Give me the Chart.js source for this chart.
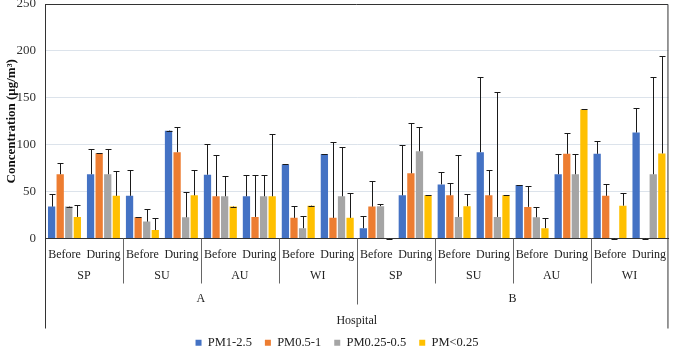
<!DOCTYPE html>
<html>
<head>
    <title>Concentration by hospital</title>
    <script src="https://cdn.jsdelivr.net/npm/chart.js"></script>
    <style>
        html, body { margin: 0; padding: 0; background: #fff; }
        #wrap { width: 675px; height: 349px; position: relative; }
    </style>
</head>
<body>
    <div id="wrap"><canvas id="myChart"></canvas></div>
    <script>
        // categories
        const periods = ['Before', 'During', 'Before', 'During', 'Before', 'During', 'Before', 'During',
                         'Before', 'During', 'Before', 'During', 'Before', 'During', 'Before', 'During'];
        const seasons = ['SP', 'SU', 'AU', 'WI', 'SP', 'SU', 'AU', 'WI'];
        const hospitals = ['A', 'B'];
        const yTicks = [0, 50, 100, 150, 200, 250];

        // means
        const pm1_25 = [34, 68.5, 45.5, 115, 68, 45, 79, 90, 11, 46, 57.7, 92, 57, 68.5, 90.3, 113];
        const pm05_1 = [68.5, 91, 22.6, 92, 45, 23, 22, 22, 34, 69.5, 46, 46, 33.7, 90.3, 45.5, 0];
        const pm025_05 = [34, 68.5, 18, 22.6, 45, 45, 11, 45, 34.5, 93, 23, 23, 22.6, 68.5, 0, 68.5];
        const pm025 = [23, 45.5, 9, 46, 34, 45, 35, 22, 0, 46, 34.4, 46, 11, 137.6, 35, 90.7];

        // top of error bars (mean + sd)
        const pm1_25Top = [47, 95, 73, 115, 101, 68, 79, 90, 24, 100, 70.6, 172, 57, 90.3, 103.6, 139];
        const pm05_1Top = [81, 91, 22.6, 119, 89, 68, 35, 103, 61, 123, 59, 72.8, 56, 113, 58, 0];
        const pm025_05Top = [34, 95, 31.5, 50, 67, 68, 24, 98, 36.5, 119, 89, 156.6, 34, 90.3, 0, 172];
        const pm025Top = [36, 72, 22, 73, 34, 111.5, 35, 49, 0, 46, 47.7, 46, 22, 137.6, 48, 194.6];

        const serif = "'Liberation Serif', 'Times New Roman', serif";

        const datasets = [
            { label: 'PM1-2.5', data: pm1_25, upper: pm1_25Top, backgroundColor: '#4472C4' },
            { label: 'PM0.5-1', data: pm05_1, upper: pm05_1Top, backgroundColor: '#ED7D31' },
            { label: 'PM0.25-0.5', data: pm025_05, upper: pm025_05Top, backgroundColor: '#A5A5A5' },
            { label: 'PM<0.25', data: pm025, upper: pm025Top, backgroundColor: '#FFC000' }
        ];
        datasets.forEach(d => {
            d.categoryPercentage = 0.88;
            d.barPercentage = 0.85;
        });

        // error bars, upward only
        const errorBars = {
            id: 'errorBars',
            afterDatasetsDraw(chart) {
                const ctx = chart.ctx;
                const y = chart.scales.y;
                ctx.save();
                ctx.strokeStyle = '#1a1a1a';
                ctx.lineWidth = 1;
                chart.data.datasets.forEach((ds, i) => {
                    const meta = chart.getDatasetMeta(i);
                    if (meta.hidden) return;
                    meta.data.forEach((bar, j) => {
                        const x = Math.round(bar.x) + 0.5;
                        const top = Math.round(y.getPixelForValue(ds.upper[j])) + 0.5;
                        const base = y.getPixelForValue(ds.data[j]);
                        ctx.beginPath();
                        ctx.moveTo(x, base);
                        ctx.lineTo(x, top);
                        ctx.moveTo(x - 3, top);
                        ctx.lineTo(x + 3, top);
                        ctx.stroke();
                    });
                });
                ctx.restore();
            }
        };

        // frame, group labels and separators under the axis
        const groupAxis = {
            id: 'groupAxis',
            afterDraw(chart) {
                const ctx = chart.ctx;
                const area = chart.chartArea;
                const x = chart.scales.x;
                const cw = (x.right - x.left) / periods.length;
                const b = area.bottom;
                ctx.save();
                ctx.fillStyle = '#222';
                ctx.font = '12px ' + serif;
                ctx.textAlign = 'center';
                ctx.textBaseline = 'middle';
                seasons.forEach((s, k) => {
                    ctx.fillText(s, x.left + (k * 2 + 1) * cw, b + 37);
                });
                hospitals.forEach((h, k) => {
                    ctx.fillText(h, x.left + (k * 8 + 4) * cw, b + 60);
                });
                ctx.fillText('Hospital', (x.left + x.right) / 2, b + 82);

                ctx.lineWidth = 1;
                ctx.strokeStyle = '#666';
                for (let k = 1; k < seasons.length; k++) {
                    const px = Math.round(x.left + k * 2 * cw) + 0.5;
                    ctx.beginPath();
                    ctx.moveTo(px, b);
                    ctx.lineTo(px, b + (k === 4 ? 66 : 45));
                    ctx.stroke();
                }
                ctx.strokeStyle = '#333';
                ctx.beginPath();
                ctx.moveTo(x.left + 0.5, b);
                ctx.lineTo(x.left + 0.5, b + 90);
                ctx.moveTo(x.right - 0.5, b + 90);
                ctx.lineTo(x.right - 0.5, area.top + 0.5);
                ctx.lineTo(x.left, area.top + 0.5);
                ctx.stroke();
                ctx.restore();
            }
        };

        const ctx = document.getElementById('myChart').getContext('2d');
        const myChart = new Chart(ctx, {
            type: 'bar',
            data: {
                labels: periods,
                datasets: datasets
            },
            options: {
                responsive: true,
                maintainAspectRatio: false,
                animation: false,
                layout: {
                    padding: { top: 4, right: 1, left: 0, bottom: -10 }
                },
                plugins: {
                    legend: {
                        position: 'bottom',
                        labels: {
                            boxWidth: 6,
                            boxHeight: 6,
                            padding: 13,
                            color: '#222',
                            font: { family: serif, size: 12.5 }
                        }
                    },
                    tooltip: { enabled: false }
                },
                scales: {
                    x: {
                        grid: { display: false, drawTicks: false },
                        border: { display: true, color: '#333' },
                        ticks: {
                            color: '#222',
                            padding: 9,
                            maxRotation: 0,
                            autoSkip: false,
                            font: { family: serif, size: 12 }
                        },
                        afterFit(scale) { scale.height = 85; }
                    },
                    y: {
                        min: 0,
                        max: 250,
                        afterBuildTicks(scale) {
                            scale.ticks = yTicks.map(v => ({ value: v }));
                        },
                        grid: { color: '#dce3eb', drawTicks: true, tickLength: 9, tickColor: 'rgba(0,0,0,0)' },
                        border: { display: true, color: '#333' },
                        ticks: {
                            color: '#333',
                            padding: 0,
                            font: { family: serif, size: 13, lineHeight: 0.6 }
                        },
                        title: {
                            display: true,
                            text: 'Concentration (μg/m³)',
                            color: '#111',
                            padding: { top: 4, bottom: 0 },
                            font: { family: serif, size: 13, weight: 'bold' }
                        },
                        afterFit(scale) { scale.width = 45; }
                    }
                }
            },
            plugins: [errorBars, groupAxis]
        });
    </script>
</body>
</html>
